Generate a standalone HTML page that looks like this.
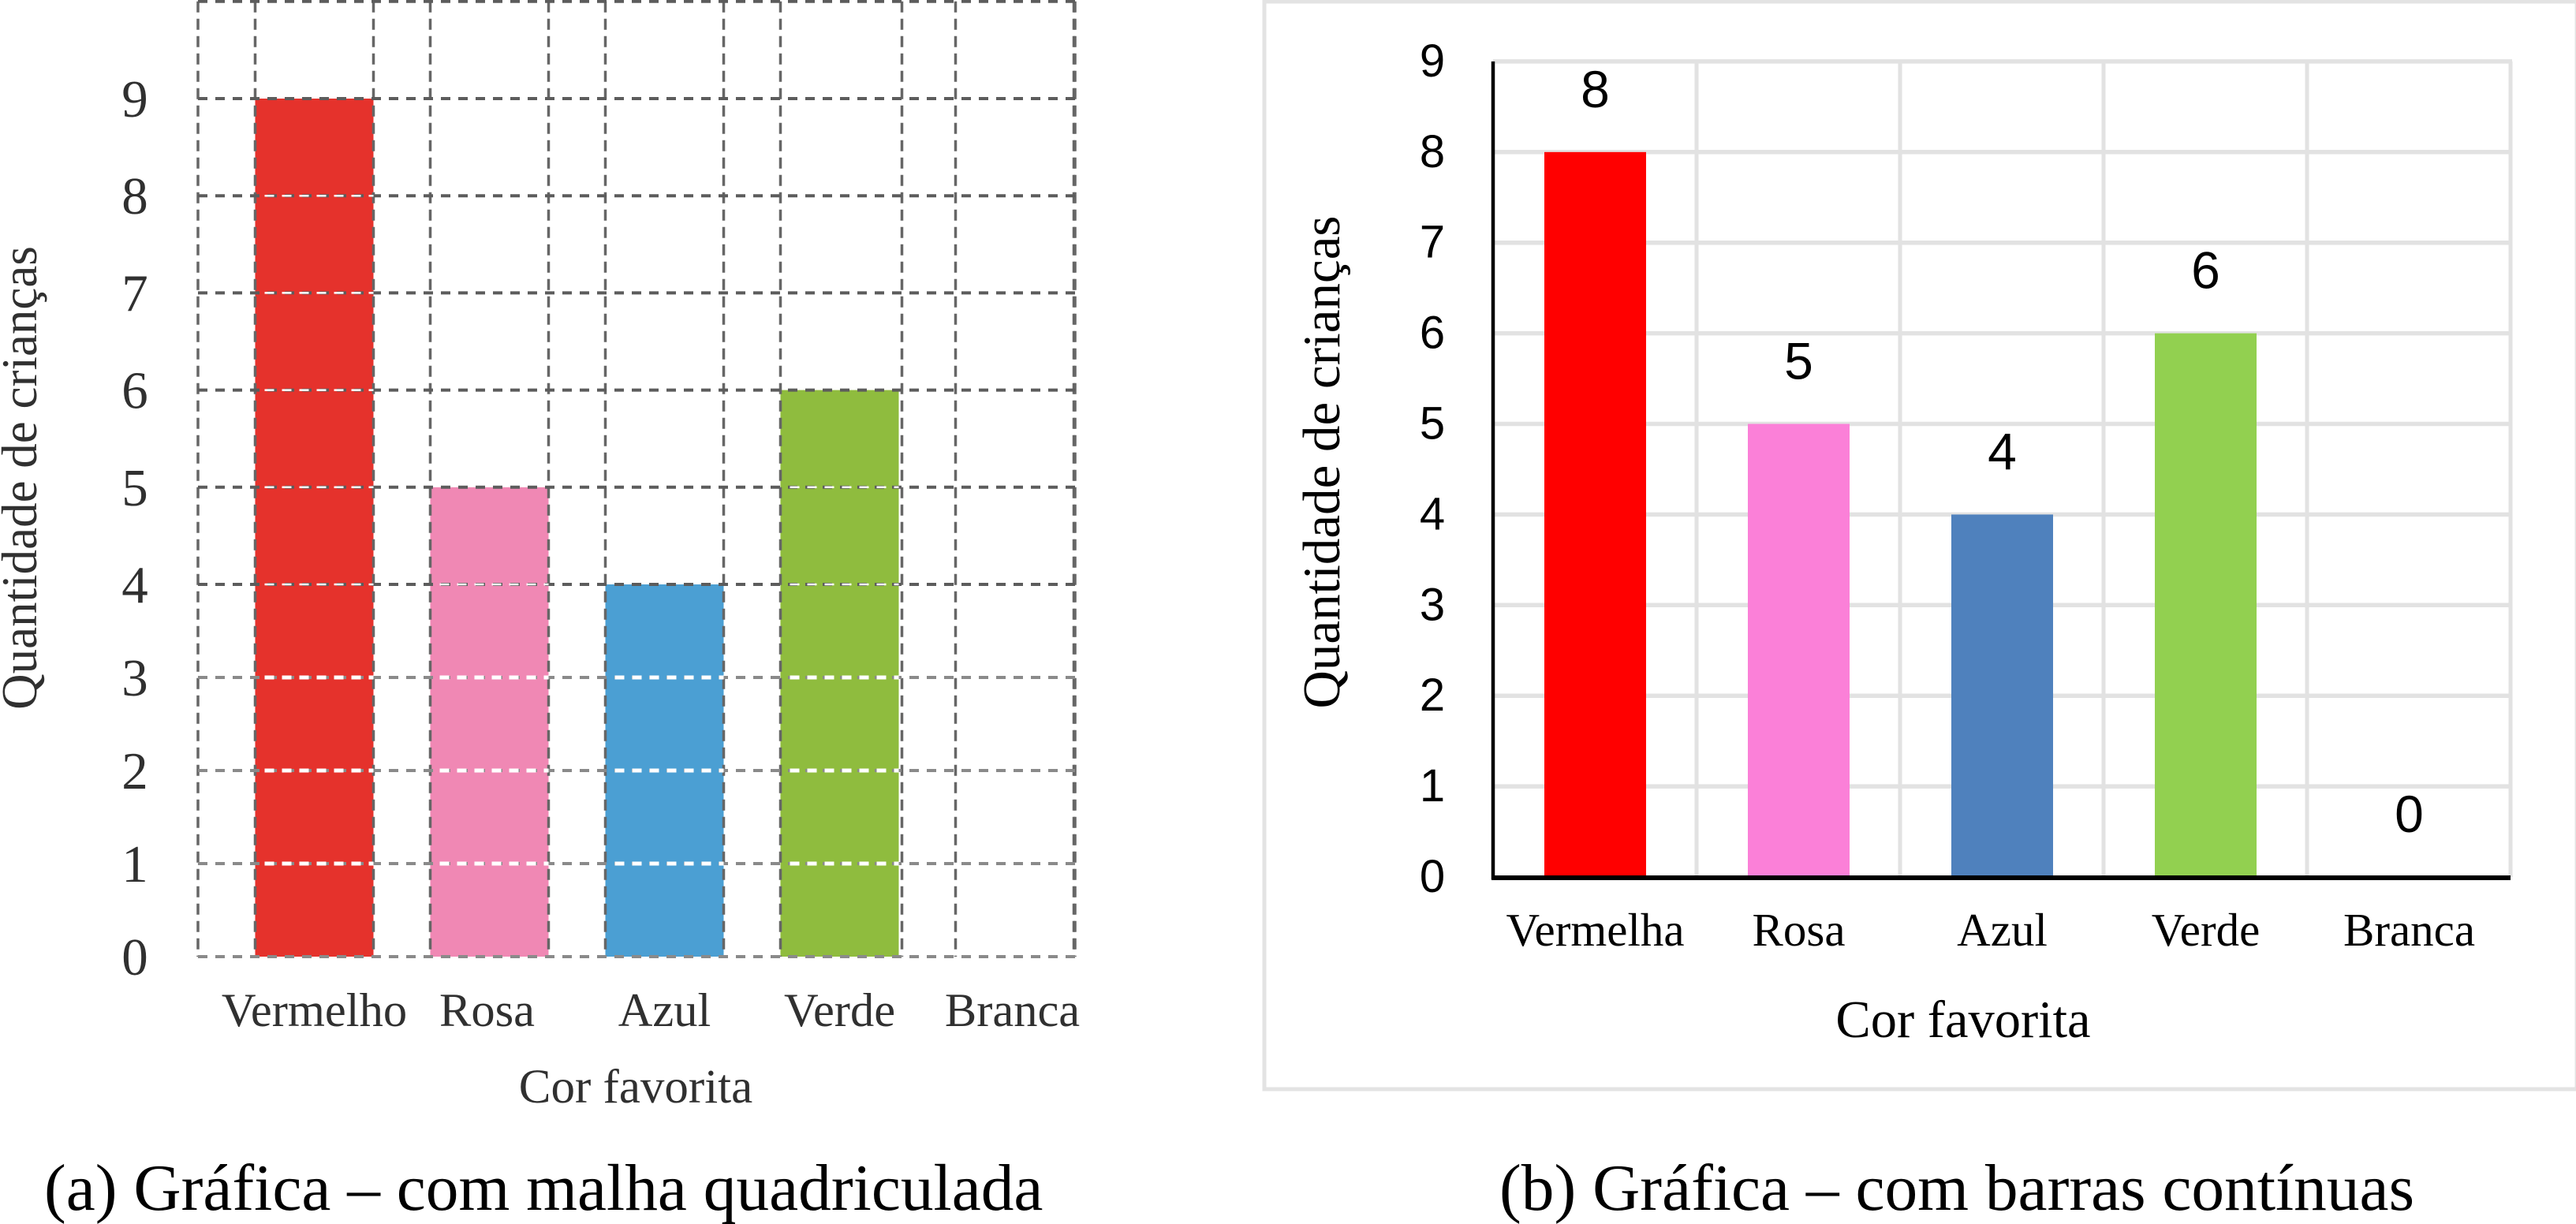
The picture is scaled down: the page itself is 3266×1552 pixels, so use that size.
<!DOCTYPE html>
<html lang="pt">
<head>
<meta charset="utf-8">
<title>Gráficas de cor favorita</title>
<style>
html,body{margin:0;padding:0;background:#fff;width:3266px;height:1552px;overflow:hidden}
svg{display:block}
text{font-family:"Liberation Serif",serif}
.sans{font-family:"Liberation Sans",sans-serif}
</style>
</head>
<body>
<svg id="chart" xmlns="http://www.w3.org/2000/svg" width="3266" height="1552" viewBox="0 0 3266 1552"></svg>
<script>
// Panel (a) data
const categoriesA = ['Vermelho', 'Rosa', 'Azul', 'Verde', 'Branca'];
const valuesA = [9, 5, 4, 6, 0];
const colorsA = ['#e5322c', '#f088b4', '#4b9fd3', '#8fbc3e', '#ffffff'];
const gridTicksA = [0, 1, 2, 3, 4, 5, 6, 7, 8, 9, 10];
const tickLabelsA = [0, 1, 2, 3, 4, 5, 6, 7, 8, 9];

// Panel (b) data
const categoriesB = ['Vermelha', 'Rosa', 'Azul', 'Verde', 'Branca'];
const valuesB = [8, 5, 4, 6, 0];
const colorsB = ['#ff0000', '#fb80d8', '#4f81bd', '#92d050', '#ffffff'];
const tickLabelsB = [0, 1, 2, 3, 4, 5, 6, 7, 8, 9];

const svg = document.getElementById('chart');
const NS = 'http://www.w3.org/2000/svg';

function line(x1, y1, x2, y2, stroke, width, dash) {
  const el = document.createElementNS(NS, 'line');
  el.setAttribute('x1', x1);
  el.setAttribute('y1', y1);
  el.setAttribute('x2', x2);
  el.setAttribute('y2', y2);
  el.setAttribute('stroke', stroke);
  el.setAttribute('stroke-width', width);
  if (dash) el.setAttribute('stroke-dasharray', dash);
  svg.appendChild(el);
  return el;
}
function rect(x, y, w, h, fill) {
  const el = document.createElementNS(NS, 'rect');
  el.setAttribute('x', x);
  el.setAttribute('y', y);
  el.setAttribute('width', w);
  el.setAttribute('height', h);
  el.setAttribute('fill', fill);
  svg.appendChild(el);
  return el;
}
function label(str, x, y, size, fill, anchor, cls) {
  const el = document.createElementNS(NS, 'text');
  el.setAttribute('x', x);
  el.setAttribute('y', y);
  el.setAttribute('font-size', size);
  el.setAttribute('fill', fill);
  el.setAttribute('text-anchor', anchor || 'middle');
  if (cls) el.setAttribute('class', cls);
  el.textContent = str;
  svg.appendChild(el);
  return el;
}

/* ---------- Panel (a) axes ---------- */
// The source grid is hand-drawn: lower and upper rows have slightly different pitch.
function yA(v) { return v <= 4 ? 1213 - 118 * v : 741 - 123.2 * (v - 4); }
function bandLeftA(i) { return 323.5 + 222 * i; }
const barWidthA = 150;
const plotLeftA = 251;
const plotRightA = 1363;

/* Panel (a) bars */
categoriesA.forEach(function (c, i) {
  if (valuesA[i] <= 0) return;
  const b = rect(bandLeftA(i), yA(valuesA[i]), barWidthA, yA(0) - yA(valuesA[i]), colorsA[i]);
  
  
});

/* Panel (a) vertical grid */
const gridTopA = yA(10);
const gridBottomA = yA(0);
function vGridA(x, name) {
  const g = line(x, gridTopA, x, gridBottomA, '#666666', 3.5, '14 8');
  
  
}
vGridA(plotLeftA, 'grid-a-left-edge');
vGridA(plotRightA, 'grid-a-right-edge');
categoriesA.forEach(function (c, i) {
  vGridA(bandLeftA(i), 'grid-a-band-start-' + i);
  vGridA(bandLeftA(i) + (i === 3 ? 154 : barWidthA), 'grid-a-band-end-' + i);
});

/* Panel (a) horizontal grid */
gridTicksA.forEach(function (t) {
  const y = yA(t);
  const col = t <= 3 ? '#8a8a8a' : '#5c5c5c';
  const g = line(plotLeftA, y, plotRightA, y, col, 4, '12 10');
  
  
  // light dashes where the grid crosses a bar (strong on the lower rows, faint above)
  categoriesA.forEach(function (c, i) {
    if (t > 0 && t < valuesA[i]) {
      const w = line(bandLeftA(i) + 12, y, bandLeftA(i) + barWidthA, y, '#ffffff', t <= 3 ? 5 : 2.5, '12 10');
      
      
    }
  });
});

/* Panel (a) labels */
tickLabelsA.forEach(function (t) {
  const el = label(String(t), 171, yA(t) + 23, 67, '#303030');
  
  
});
categoriesA.forEach(function (c, i) {
  const el = label(c, bandLeftA(i) + 75 + (i === 1 ? -3 : 0) + (i === 4 ? -3 : 0), 1301, 60.5, '#303030');
  
  
});
const xTitleA = label('Cor favorita', 806, 1398, 61, '#303030');


const yTitleA = label('Quantidade de crianças', 0, 0, 63, '#303030');
yTitleA.setAttribute('transform', 'translate(46 606) rotate(-90)');


const capA = label('(a) Gráfica – com malha quadriculada', 56, 1534, 83.4, '#000', 'start');



/* ---------- Panel (b) frame ---------- */
const frame = rect(1603, 2, 1664, 1379, '#ffffff');
frame.setAttribute('stroke', '#e3e3e3');
frame.setAttribute('stroke-width', 5);



/* Panel (b) axes */
function yB(v) { return 1112 - 114.9 * v; }
function xB(i) { return 1893 + 258 * i; }
function centerB(i) { return xB(i) + 129.5; }
const barWidthB = 129;

tickLabelsB.forEach(function (t) {
  if (t === 0) return;
  const g = line(xB(0), yB(t), xB(5) + 2, yB(t), '#e2e2e2', 5.5);
  
  
});
categoriesB.forEach(function (c, i) {
  const g = line(xB(i + 1), yB(9), xB(i + 1), yB(0), '#e2e2e2', 5);
  
  
});

/* Panel (b) bars */
categoriesB.forEach(function (c, i) {
  if (valuesB[i] <= 0) return;
  const b = rect(centerB(i) - barWidthB / 2, yB(valuesB[i]), barWidthB, yB(0) - yB(valuesB[i]), colorsB[i]);
  
  
});

const axisY = line(xB(0), yB(9), xB(0), yB(0) + 3, '#000', 4.5);


const axisX = line(xB(0) - 2, yB(0) + 1, xB(5), yB(0) + 1, '#000', 6);



/* Panel (b) labels */
tickLabelsB.forEach(function (t) {
  const el = label(String(t), 1816, yB(t) + 19, 58, '#000', 'middle', 'sans');
  
  
});
valuesB.forEach(function (v, i) {
  const el = label(String(v), centerB(i), yB(v) - 57, 66, '#000', 'middle', 'sans');
  
  
});
categoriesB.forEach(function (c, i) {
  const el = label(c, centerB(i), 1199, 59, '#000');
  
  
});
const xTitleB = label('Cor favorita', 2489, 1315, 66.5, '#000');


const yTitleB = label('Quantidade de crianças', 0, 0, 67, '#000');
yTitleB.setAttribute('transform', 'translate(1698 586) rotate(-90)');


const capB = label('(b) Gráfica – com barras contínuas', 1901, 1534, 83.4, '#000', 'start');


</script>
</body>
</html>
